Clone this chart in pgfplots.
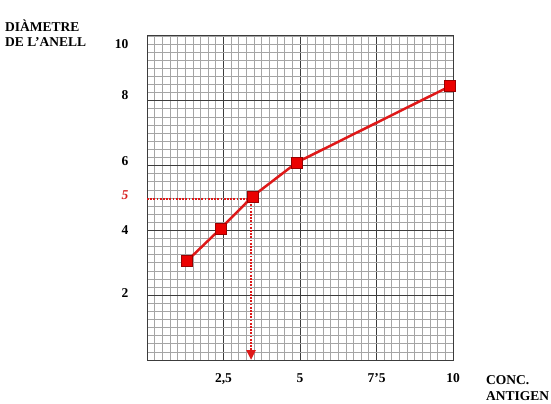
\documentclass[border=0pt]{standalone}
\usepackage{fontspec}
\setmainfont{Liberation Serif}
\usepackage{pgfplots}
\pgfplotsset{compat=1.18}
\usetikzlibrary{arrows.meta}
\definecolor{curvered}{RGB}{222,24,24}
\definecolor{markred}{RGB}{235,0,0}
\definecolor{labelred}{RGB}{215,30,30}
\definecolor{minorgrid}{RGB}{165,165,165}
\definecolor{majorgrid}{RGB}{60,60,60}
% y labels sit a little off their grid lines in the original
\newcommand{\yl}[2]{\smash{\raisebox{#1bp}{#2}}}
\begin{document}
\begin{tikzpicture}[x=1bp,y=1bp]
\path (0,0) rectangle (551,403);
\begin{axis}[
  at={(147bp,43bp)}, anchor=south west,
  scale only axis, width=306bp, height=324bp,
  xmin=0, xmax=10, ymin=0, ymax=10,
  xtick={2.5,5,7.5,10}, xticklabels={{2,5},5,{7’5},10},
  ytick={2,4,6,8,10},
  yticklabels={\yl{-2.7}{2},\yl{-3.7}{4},\yl{0.3}{6},\yl{1.3}{8},\yl{-12.7}{10}},
  minor xtick={0,0.25,...,10}, minor ytick={0,0.25,...,10},
  grid=both,
  minor grid style={line width=0.8bp, draw=minorgrid},
  major grid style={line width=1bp, draw=majorgrid},
  axis line style={line width=1bp, draw=majorgrid},
  major tick length=0pt, minor tick length=0pt,
  tick style={draw=none},
  tick label style={font=\fontsize{13.5bp}{16bp}\selectfont\bfseries},
  /pgf/number format/assume math mode=true,
  xticklabel style={yshift=-10bp},
  yticklabel style={xshift=-15bp},
  extra y ticks={5},
  extra y tick labels={\yl{-1.7}{\textcolor{labelred}{\itshape 5}}},
  extra y tick style={grid=none},
  clip=false,
]
% guide lines read off at diameter 5
\addplot[curvered, line width=2.3bp, dash pattern=on 1.8bp off 1.4bp]
  coordinates {(0,4.97) (3.4,4.97)};
\addplot[curvered, line width=2.3bp, dash pattern=on 1.8bp off 1.4bp,
  -{Triangle[width=9bp,length=10bp]}]
  coordinates {(3.4,5) (3.4,0)};
% calibration curve
\addplot[curvered, line width=2.5bp, mark=square*, mark size=5.5bp,
  mark options={fill=markred, draw=red!60!black, line width=0.6bp, solid}]
  coordinates {(1.3,3.05) (2.4,4.05) (3.45,5.05) (4.9,6.1) (9.9,8.45)};
\end{axis}
\begin{scope}[every node/.style={inner sep=0pt, anchor=base west,
  font=\fontsize{13.5bp}{16bp}\selectfont\bfseries}]
\node at (5,372) {DIÀMETRE};
\node at (5,357) {DE L’ANELL};
\node at (486,19) {CONC.};
\node at (486,3) {ANTIGEN};
\end{scope}
\end{tikzpicture}
\end{document}
